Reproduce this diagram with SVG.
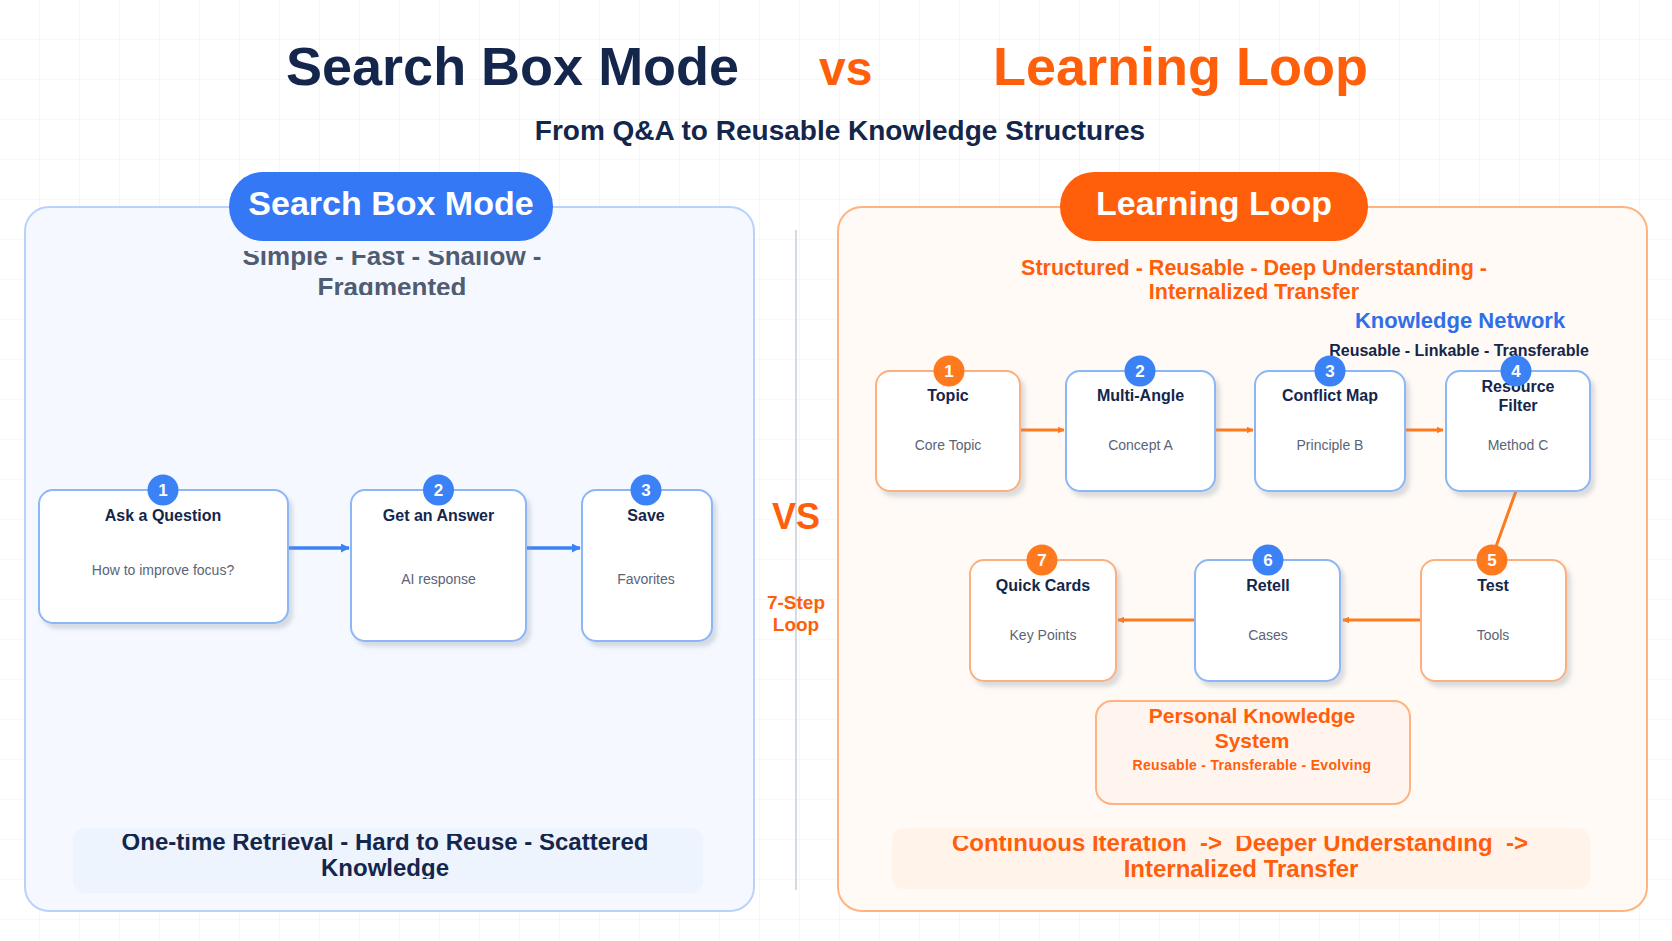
<svg xmlns="http://www.w3.org/2000/svg" width="1672" height="941" viewBox="0 0 1672 941">
  <defs>
    <pattern id="grid" width="40" height="40" patternUnits="userSpaceOnUse">
      <path d="M40 0 V40 M0 40 H40" fill="none" stroke="#edf1f6" stroke-width="1.2"/>
    </pattern>
    <filter id="sh" x="-10%" y="-10%" width="130%" height="130%">
      <feDropShadow dx="4" dy="5" stdDeviation="2" flood-color="#8a94a6" flood-opacity="0.3"/>
    </filter>
    <marker id="ab" viewBox="0 0 10 10" refX="9" refY="5" markerWidth="9" markerHeight="9" markerUnits="userSpaceOnUse" orient="auto">
      <path d="M0 0 L10 5 L0 10 Z" fill="#3b82f6"/>
    </marker>
    <marker id="ao" viewBox="0 0 10 10" refX="9" refY="5" markerWidth="7" markerHeight="7" markerUnits="userSpaceOnUse" orient="auto">
      <path d="M0 0 L10 5 L0 10 Z" fill="#ff7a1f"/>
    </marker>
    <clipPath id="clipL"><rect x="25" y="251" width="729" height="44"/></clipPath>
    <clipPath id="clipBL"><rect x="73" y="834" width="630" height="45"/></clipPath>
    <clipPath id="clipBR"><rect x="892" y="836" width="698" height="47"/></clipPath>
    <style>
      text { font-family: "Liberation Sans", Arial, sans-serif; }
      .b { font-weight: 700; }
      .navy { fill: #14264b; }
      .org { fill: #ff5e0a; }
      .nbox { fill: #ffffff; stroke-width: 2; filter: url(#sh); }
      .nb { stroke: #8db6f7; }
      .no { stroke: #fdb07f; }
      .ttl { font-size: 16px; font-weight: 700; fill: #14264b; text-anchor: middle; }
      .sub { font-size: 14px; fill: #5a6478; text-anchor: middle; }
      .bdg-b { fill: #3b82f6; }
      .bdg-o { fill: #ff7a1f; }
      .num { font-size: 17px; font-weight: 700; fill: #ffffff; text-anchor: middle; }
      .cb { stroke: #3b82f6; stroke-width: 3.5; fill: none; }
      .co { stroke: #ff7a1f; stroke-width: 3; fill: none; }
    </style>
  </defs>

  <rect x="0" y="0" width="1672" height="941" fill="#ffffff"/>
  <rect x="0" y="0" width="1672" height="941" fill="url(#grid)"/>

  <g id="title">
    <text x="286" y="85" class="b navy" font-size="54">Search Box Mode</text>
    <text x="819" y="85" class="b org" font-size="48">vs</text>
    <text x="993" y="85" class="b org" font-size="54">Learning Loop</text>
    <text x="840" y="140" class="b navy" font-size="28" text-anchor="middle">From Q&amp;A to Reusable Knowledge Structures</text>
  </g>

  <g id="left-panel">
    <rect x="25" y="207" width="729" height="704" rx="24" fill="#f5f9ff" stroke="#b8d2fb" stroke-width="2"/>
    <g clip-path="url(#clipL)">
      <text x="392" y="265" class="b" font-size="26" fill="#505c72" text-anchor="middle">Simple - Fast - Shallow -</text>
      <text x="392" y="296" class="b" font-size="26" fill="#505c72" text-anchor="middle">Fragmented</text>
    </g>
    <rect x="229" y="172" width="324" height="69" rx="34" fill="#3478f6"/>
    <text x="391" y="215" class="b" font-size="34" fill="#ffffff" text-anchor="middle">Search Box Mode</text>
    <rect x="73" y="828" width="630" height="65" rx="12" fill="#edf4fe"/>
    <g clip-path="url(#clipBL)">
      <text x="385" y="850" class="b navy" font-size="24" text-anchor="middle">One-time Retrieval - Hard to Reuse - Scattered</text>
      <text x="385" y="876" class="b navy" font-size="24" text-anchor="middle">Knowledge</text>
    </g>
  </g>

  <g id="divider">
    <line x1="796" y1="230" x2="796" y2="890" stroke="#d3dae4" stroke-width="2"/>
    <text x="796" y="529" class="b org" font-size="36" text-anchor="middle">VS</text>
    <text x="796" y="609" class="b org" font-size="19" text-anchor="middle">7-Step</text>
    <text x="796" y="631" class="b org" font-size="19" text-anchor="middle">Loop</text>
  </g>

  <g id="right-panel">
    <rect x="838" y="207" width="809" height="704" rx="24" fill="#fffaf5" stroke="#ffb380" stroke-width="2"/>
    <rect x="1060" y="172" width="308" height="69" rx="34" fill="#ff5e0a"/>
    <text x="1214" y="215" class="b" font-size="34" fill="#ffffff" text-anchor="middle">Learning Loop</text>
    <text x="1254" y="275" class="b org" font-size="21.5" text-anchor="middle">Structured - Reusable - Deep Understanding -</text>
    <text x="1254" y="299" class="b org" font-size="21.5" text-anchor="middle">Internalized Transfer</text>
    <text x="1460" y="328" class="b" font-size="22" fill="#2f6fe8" text-anchor="middle">Knowledge Network</text>
    <text x="1459" y="356" class="b navy" font-size="16" text-anchor="middle">Reusable - Linkable - Transferable</text>
    <rect x="892" y="828" width="698" height="61" rx="12" fill="#fff3ea"/>
    <g clip-path="url(#clipBR)">
      <text x="1240" y="851" class="b org" font-size="24" text-anchor="middle" style="white-space:pre">Continuous Iteration  -&gt;  Deeper Understanding  -&gt;</text>
      <text x="1241" y="877" class="b org" font-size="24" text-anchor="middle">Internalized Transfer</text>
    </g>
  </g>

  <g id="connectors">
    <line x1="288" y1="548" x2="349" y2="548" class="cb" marker-end="url(#ab)"/>
    <line x1="526" y1="548" x2="580" y2="548" class="cb" marker-end="url(#ab)"/>
    <line x1="1020" y1="430" x2="1064" y2="430" class="co" marker-end="url(#ao)"/>
    <line x1="1215" y1="430" x2="1253" y2="430" class="co" marker-end="url(#ao)"/>
    <line x1="1405" y1="430" x2="1443" y2="430" class="co" marker-end="url(#ao)"/>
    <line x1="1516" y1="491" x2="1494" y2="552" class="co"/>
    <line x1="1421" y1="620" x2="1343" y2="620" class="co" marker-end="url(#ao)"/>
    <line x1="1195" y1="620" x2="1118" y2="620" class="co" marker-end="url(#ao)"/>
  </g>

  <g id="node-ask">
    <rect x="39" y="490" width="249" height="133" rx="14" class="nbox nb"/>
    <text x="163" y="521" class="ttl">Ask a Question</text>
    <text x="163" y="575" class="sub">How to improve focus?</text>
    <circle cx="163" cy="490" r="15.5" class="bdg-b"/>
    <text x="163" y="496" class="num">1</text>
  </g>
  <g id="node-answer">
    <rect x="351" y="490" width="175" height="151" rx="14" class="nbox nb"/>
    <text x="438.5" y="521" class="ttl">Get an Answer</text>
    <text x="438.5" y="584" class="sub">AI response</text>
    <circle cx="438.5" cy="490" r="15.5" class="bdg-b"/>
    <text x="438.5" y="496" class="num">2</text>
  </g>
  <g id="node-save">
    <rect x="582" y="490" width="130" height="151" rx="14" class="nbox nb"/>
    <text x="646" y="521" class="ttl">Save</text>
    <text x="646" y="584" class="sub">Favorites</text>
    <circle cx="646" cy="490" r="15.5" class="bdg-b"/>
    <text x="646" y="496" class="num">3</text>
  </g>

  <g id="node-topic">
    <rect x="876" y="371" width="144" height="120" rx="14" class="nbox no"/>
    <text x="948" y="401" class="ttl">Topic</text>
    <text x="948" y="450" class="sub">Core Topic</text>
    <circle cx="949" cy="371" r="15.5" class="bdg-o"/>
    <text x="949" y="377" class="num">1</text>
  </g>
  <g id="node-multi">
    <rect x="1066" y="371" width="149" height="120" rx="14" class="nbox nb"/>
    <text x="1140.5" y="401" class="ttl">Multi-Angle</text>
    <text x="1140.5" y="450" class="sub">Concept A</text>
    <circle cx="1140" cy="371" r="15.5" class="bdg-b"/>
    <text x="1140" y="377" class="num">2</text>
  </g>
  <g id="node-conflict">
    <rect x="1255" y="371" width="150" height="120" rx="14" class="nbox nb"/>
    <text x="1330" y="401" class="ttl">Conflict Map</text>
    <text x="1330" y="450" class="sub">Principle B</text>
    <circle cx="1330" cy="371" r="15.5" class="bdg-b"/>
    <text x="1330" y="377" class="num">3</text>
  </g>
  <g id="node-resource">
    <rect x="1446" y="371" width="144" height="120" rx="14" class="nbox nb"/>
    <text x="1518" y="392" class="ttl">Resource</text>
    <text x="1518" y="411" class="ttl">Filter</text>
    <text x="1518" y="450" class="sub">Method C</text>
    <circle cx="1516" cy="371" r="15.5" class="bdg-b"/>
    <text x="1516" y="377" class="num">4</text>
  </g>
  <g id="node-test">
    <rect x="1421" y="560" width="145" height="121" rx="14" class="nbox no"/>
    <text x="1493" y="591" class="ttl">Test</text>
    <text x="1493" y="640" class="sub">Tools</text>
    <circle cx="1492" cy="560" r="15.5" class="bdg-o"/>
    <text x="1492" y="566" class="num">5</text>
  </g>
  <g id="node-retell">
    <rect x="1195" y="560" width="145" height="121" rx="14" class="nbox nb"/>
    <text x="1268" y="591" class="ttl">Retell</text>
    <text x="1268" y="640" class="sub">Cases</text>
    <circle cx="1268" cy="560" r="15.5" class="bdg-b"/>
    <text x="1268" y="566" class="num">6</text>
  </g>
  <g id="node-cards">
    <rect x="970" y="560" width="146" height="121" rx="14" class="nbox no"/>
    <text x="1043" y="591" class="ttl">Quick Cards</text>
    <text x="1043" y="640" class="sub">Key Points</text>
    <circle cx="1042" cy="560" r="15.5" class="bdg-o"/>
    <text x="1042" y="566" class="num">7</text>
  </g>

  <g id="node-pks">
    <rect x="1096" y="701" width="314" height="103" rx="16" fill="#fff5ee" stroke="#ffb380" stroke-width="2"/>
    <text x="1252" y="723" class="b org" font-size="21" text-anchor="middle">Personal Knowledge</text>
    <text x="1252" y="748" class="b org" font-size="21" text-anchor="middle">System</text>
    <text x="1252" y="770" class="b org" font-size="14" letter-spacing="0.3" text-anchor="middle">Reusable - Transferable - Evolving</text>
  </g>
</svg>
